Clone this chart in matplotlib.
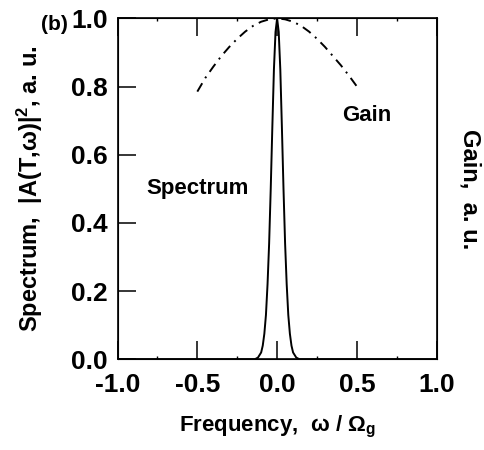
import matplotlib
matplotlib.use('Agg')
import matplotlib.pyplot as plt
from matplotlib.ticker import MultipleLocator

plt.rcParams['font.family'] = ['Liberation Sans', 'DejaVu Sans']
plt.rcParams['font.weight'] = 'bold'
plt.rcParams['axes.labelweight'] = 'bold'
plt.rcParams['mathtext.fontset'] = 'custom'
plt.rcParams['mathtext.rm'] = 'Liberation Sans:bold'
plt.rcParams['mathtext.it'] = 'Liberation Sans:bold'
plt.rcParams['mathtext.bf'] = 'Liberation Sans:bold'

# spectrum |A(T,w)|^2
spec_x = [-1.0, -0.14, -0.12, -0.10, -0.09, -0.08, -0.07, -0.06, -0.05, -0.04, -0.03, -0.02, -0.01, 0.0,
          0.01, 0.02, 0.03, 0.04, 0.05, 0.06, 0.07, 0.08, 0.09, 0.10, 0.12, 0.14, 1.0]
spec_y = [0.0, 0.0, 0.005, 0.02, 0.04, 0.075, 0.13, 0.22, 0.34, 0.50, 0.68, 0.85, 0.96, 1.0,
          0.96, 0.85, 0.68, 0.50, 0.34, 0.22, 0.13, 0.075, 0.04, 0.02, 0.005, 0.0, 0.0]

# gain profile
gain_x = [-0.5, -0.45, -0.4, -0.35, -0.3, -0.25, -0.2, -0.15, -0.1, -0.05, 0.0,
          0.05, 0.1, 0.15, 0.2, 0.25, 0.3, 0.35, 0.4, 0.45, 0.5]
gain_y = [0.785, 0.825, 0.858, 0.889, 0.916, 0.940, 0.961, 0.978, 0.990, 0.997, 1.0,
          0.997, 0.990, 0.978, 0.961, 0.940, 0.916, 0.889, 0.862, 0.832, 0.80]

fig = plt.figure(figsize=(4.84, 4.5), dpi=100)
ax = fig.add_axes([0.2428, 0.2016, 0.6595, 0.7577])

ax.plot(spec_x, spec_y, color='black', lw=1.4)
ax.plot(gain_x, gain_y, color='black', lw=1.4, linestyle=(0, (5, 3, 1, 3)))

ax.set_xlim(-1.0, 1.0)
ax.set_ylim(0.0, 1.0)
ax.xaxis.set_major_locator(MultipleLocator(0.5))
ax.xaxis.set_minor_locator(MultipleLocator(0.25))
ax.yaxis.set_major_locator(MultipleLocator(0.2))
ax.xaxis.set_major_formatter(plt.FuncFormatter(lambda v, p: '%.1f' % v))
ax.yaxis.set_major_formatter(plt.FuncFormatter(lambda v, p: '%.1f' % v))

ax.tick_params(which='major', direction='in', length=13, width=1.1,
               top=True, right=True, labelsize=19)
ax.tick_params(axis='x', which='major', pad=10)
ax.tick_params(axis='y', which='major', pad=7)
ax.tick_params(which='minor', direction='in', length=2, width=1.0,
               top=True, right=False)
for s in ax.spines.values():
    s.set_linewidth(1.2)

ax.set_xlabel(r'Frequency,  ω / $\mathregular{\Omega_g}$', fontsize=16,
              fontweight='bold', labelpad=12)
ax.set_ylabel(r'Spectrum,  |A(T,ω)|$\mathregular{^2}$, a. u.', fontsize=17,
              fontweight='bold', labelpad=19)

ax2 = ax.twinx()
ax2.set_yticks([])
ax2.set_ylabel('Gain,  a. u.', fontsize=17, fontweight='bold', rotation=270, labelpad=32)

ax.text(-0.82, 0.50, 'Spectrum', fontsize=16, va='center', ha='left')
ax.text(0.41, 0.716, 'Gain', fontsize=16, va='center', ha='left')
fig.text(0.084, 0.945, '(b)', fontsize=15, ha='left', va='center')

fig.savefig('out.png', dpi=100)
